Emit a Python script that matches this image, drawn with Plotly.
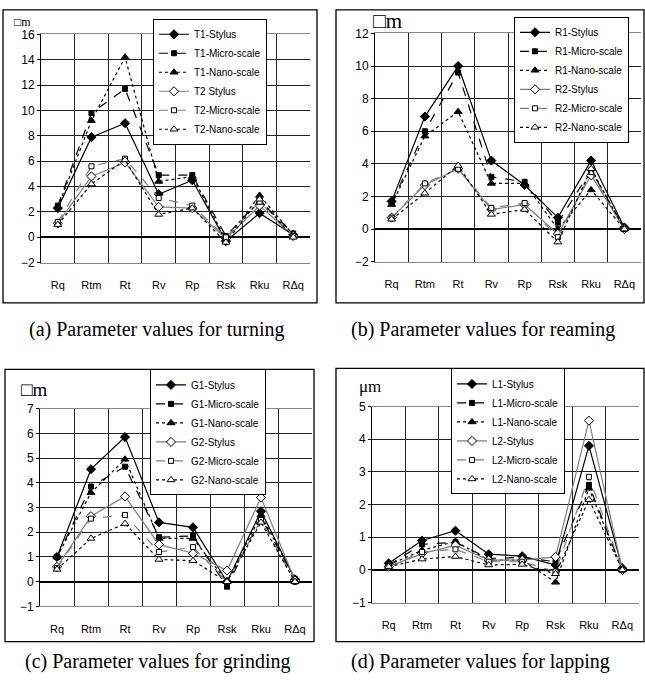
import plotly.graph_objects as go

categories = ["Rq", "Rtm", "Rt", "Rv", "Rp", "Rsk", "Rku", "RΔq"]

# (a) turning
turning_names = ["T1-Stylus", "T1-Micro-scale", "T1-Nano-scale", "T2 Stylus", "T2-Micro-scale", "T2-Nano-scale"]
t1_stylus = [2.3, 7.9, 9.0, 3.4, 4.5, -0.3, 1.9, 0.2]
t1_micro = [2.5, 9.8, 11.7, 4.9, 4.9, 0.1, 2.9, 0.3]
t1_nano = [2.4, 9.2, 14.2, 4.4, 4.8, -0.2, 3.3, 0.2]
t2_stylus = [1.1, 4.8, 5.9, 2.4, 2.3, -0.1, 2.5, 0.1]
t2_micro = [1.2, 5.6, 6.2, 3.1, 2.5, 0.0, 2.8, 0.1]
t2_nano = [1.0, 4.2, 6.1, 1.8, 2.3, -0.4, 3.0, 0.0]

# (b) reaming
reaming_names = ["R1-Stylus", "R1-Micro-scale", "R1-Nano-scale", "R2-Stylus", "R2-Micro-scale", "R2-Nano-scale"]
r1_stylus = [1.7, 6.9, 10.0, 4.2, 2.7, 0.7, 4.2, 0.1]
r1_micro = [1.6, 6.0, 9.6, 3.2, 2.9, 0.4, 3.6, 0.05]
r1_nano = [1.5, 5.7, 7.2, 2.8, 2.8, 0.0, 2.4, 0.0]
r2_stylus = [0.7, 2.7, 3.7, 1.2, 1.5, -0.3, 3.3, 0.0]
r2_micro = [0.7, 2.8, 3.7, 1.3, 1.6, -0.5, 3.5, 0.0]
r2_nano = [0.6, 2.2, 3.9, 0.9, 1.2, -0.8, 3.7, 0.0]

# (c) grinding
grinding_names = ["G1-Stylus", "G1-Micro-scale", "G1-Nano-scale", "G2-Stylus", "G2-Micro-scale", "G2-Nano-scale"]
g1_stylus = [1.0, 4.55, 5.85, 2.4, 2.2, 0.0, 2.85, 0.1]
g1_micro = [1.0, 3.85, 4.65, 1.8, 1.85, -0.2, 2.6, 0.1]
g1_nano = [1.0, 3.6, 4.95, 1.75, 1.75, 0.0, 2.7, 0.1]
g2_stylus = [0.6, 2.65, 3.45, 1.5, 1.15, 0.45, 3.4, 0.05]
g2_micro = [0.55, 2.55, 2.7, 1.2, 1.4, 0.0, 2.5, 0.0]
g2_nano = [0.5, 1.75, 2.35, 0.9, 0.85, 0.0, 2.4, 0.0]

# (d) lapping
lapping_names = ["L1-Stylus", "L1-Micro-scale", "L1-Nano-scale", "L2-Stylus", "L2-Micro-scale", "L2-Nano-scale"]
l1_stylus = [0.2, 0.9, 1.2, 0.48, 0.42, 0.15, 3.8, 0.05]
l1_micro = [0.15, 0.78, 0.85, 0.35, 0.38, 0.25, 2.6, 0.0]
l1_nano = [0.15, 0.6, 0.87, 0.3, 0.3, -0.38, 2.5, 0.0]
l2_stylus = [0.1, 0.5, 0.75, 0.3, 0.3, 0.4, 4.57, 0.0]
l2_micro = [0.1, 0.55, 0.63, 0.25, 0.25, -0.05, 2.85, 0.0]
l2_nano = [0.1, 0.33, 0.41, 0.15, 0.17, -0.12, 2.15, 0.0]

captions = ["(a) Parameter values for turning", "(b) Parameter values for reaming",
            "(c) Parameter values for grinding", "(d) Parameter values for lapping"]
unit_labels = ["\u25a1m", "\u25a1m", "\u25a1m", "μm"]

W, H = 645, 683
def fx(px):
    return px / W
def fy(py):
    return 1 - py / H

NARROW = "Liberation Sans Narrow, Arial Narrow, Liberation Sans, Arial, sans-serif"
SANS = "Liberation Sans, Arial, sans-serif"
SERIF = "Liberation Serif, Times New Roman, serif"

styles = [
    dict(line=dict(color="black", width=1.2, dash="solid"),
         marker=dict(symbol="diamond", size=7, color="black", line=dict(color="black", width=1))),
    dict(line=dict(color="black", width=1.2, dash="dash"),
         marker=dict(symbol="square", size=5, color="black", line=dict(color="black", width=1))),
    dict(line=dict(color="black", width=1.2, dash="dot"),
         marker=dict(symbol="triangle-up", size=7, color="black", line=dict(color="black", width=1))),
    dict(line=dict(color="#7f7f7f", width=1.2, dash="solid"),
         marker=dict(symbol="diamond", size=7, color="white", line=dict(color="black", width=1))),
    dict(line=dict(color="#7f7f7f", width=1.2, dash="dash"),
         marker=dict(symbol="square", size=5, color="white", line=dict(color="black", width=1))),
    dict(line=dict(color="black", width=1.2, dash="dot"),
         marker=dict(symbol="triangle-up", size=7, color="white", line=dict(color="black", width=1))),
]

panels = [
    dict(names=turning_names, series=[t1_stylus, t1_micro, t1_nano, t2_stylus, t2_micro, t2_nano],
         plot=(41, 310, 28, 261), yr=(-2, 16), dt=2, frame=(3, 317, 3, 302),
         legend=(153, 12), unit=(12, 15, 12), cap=(156, 329)),
    dict(names=reaming_names, series=[r1_stylus, r1_micro, r1_nano, r2_stylus, r2_micro, r2_nano],
         plot=(375, 641, 27, 260), yr=(-2, 12), dt=2, frame=(336, 644, 3, 302),
         legend=(514, 10), unit=(371, 14, 21), cap=(483, 329)),
    dict(names=grinding_names, series=[g1_stylus, g1_micro, g1_nano, g2_stylus, g2_micro, g2_nano],
         plot=(40, 312, 410, 612), yr=(-1, 7), dt=1, frame=(5, 314, 370, 648),
         legend=(150, 370), unit=(19, 391, 19), cap=(157, 668)),
    dict(names=lapping_names, series=[l1_stylus, l1_micro, l1_nano, l2_stylus, l2_micro, l2_nano],
         plot=(372, 639, 408, 608), yr=(-1, 5), dt=1, frame=(336, 644, 369, 648),
         legend=(451, 369), unit=(357, 387, 17), cap=(481, 668)),
]

fig = go.Figure()
layout = dict(width=W, height=H, margin=dict(l=0, r=0, t=0, b=0),
              paper_bgcolor="white", plot_bgcolor="white", showlegend=True)
shapes = []
annotations = []

for i, p in enumerate(panels):
    k = "" if i == 0 else str(i + 1)
    lg = "legend" + k
    for j, (name, vals) in enumerate(zip(p["names"], p["series"])):
        fig.add_trace(go.Scatter(x=categories, y=vals, name=name, mode="lines+markers",
                                 xaxis="x" + k, yaxis="y" + k, legend=lg,
                                 line=styles[j]["line"], marker=styles[j]["marker"]))
    x0, x1, y0, y1 = p["plot"]
    layout["xaxis" + k] = dict(domain=[fx(x0), fx(x1)], anchor="y" + k, type="category",
                               range=[-0.5, 7.5], tickson="boundaries", ticks="",
                               showgrid=True, gridcolor="#222", gridwidth=1,
                               showline=True, linecolor="#888", linewidth=1, mirror=True,
                               ticklabelstandoff=12,
                               tickfont=dict(family=NARROW, size=11, color="black"))
    layout["yaxis" + k] = dict(domain=[fy(y1), fy(y0)], anchor="x" + k, range=list(p["yr"]),
                               dtick=p["dt"], tick0=0, showgrid=True, gridcolor="#222", gridwidth=1,
                               zeroline=True, zerolinecolor="black", zerolinewidth=1.5,
                               showline=True, linecolor="black", linewidth=1, mirror=False,
                               ticks="outside", ticklen=3, tickcolor="black",
                               tickfont=dict(family=SANS, size=12, color="black"))
    lx, ly = p["legend"]
    layout[lg] = dict(x=fx(lx), y=fy(ly), xanchor="left", yanchor="top",
                      bgcolor="white", bordercolor="black", borderwidth=1,
                      font=dict(family=NARROW, size=10, color="black"),
                      itemwidth=30, tracegroupgap=0)
    fx0, fx1, fy0, fy1 = p["frame"]
    shapes.append(dict(type="rect", xref="paper", yref="paper", x0=fx(fx0), x1=fx(fx1),
                       y0=fy(fy1), y1=fy(fy0), line=dict(color="black", width=1.3), layer="below"))
    ux, uy, us = p["unit"]
    annotations.append(dict(text=unit_labels[i], xref="paper", yref="paper", x=fx(ux), y=fy(uy),
                            xanchor="left", yanchor="middle", showarrow=False,
                            font=dict(family=SERIF, size=us, color="black")))
    cx, cy = p["cap"]
    annotations.append(dict(text=captions[i], xref="paper", yref="paper", x=fx(cx), y=fy(cy),
                            xanchor="center", yanchor="middle", showarrow=False,
                            font=dict(family=SERIF, size=20, color="black")))

layout["shapes"] = shapes
layout["annotations"] = annotations
fig.update_layout(**layout)
fig.write_html("out.html")
